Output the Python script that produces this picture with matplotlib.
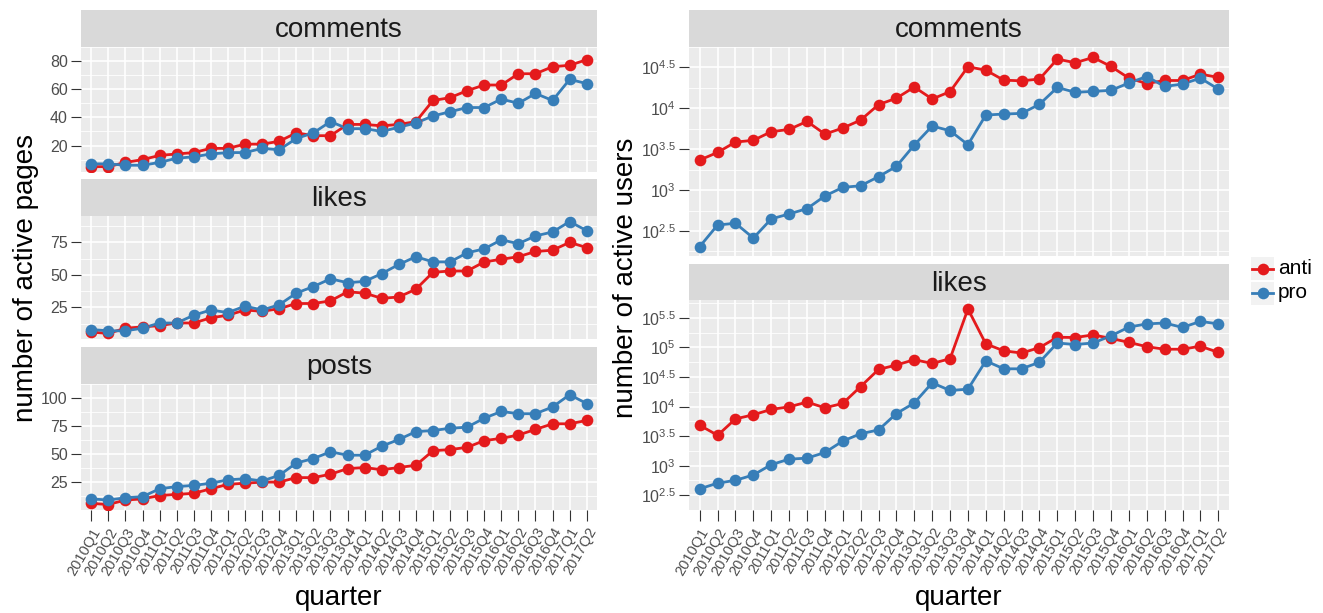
import matplotlib
matplotlib.use('Agg')
import matplotlib.pyplot as plt
from matplotlib.patches import Rectangle
from matplotlib.lines import Line2D
import numpy as np

plt.rcParams['font.family'] = ['Liberation Sans', 'DejaVu Sans']
plt.rcParams['mathtext.fontset'] = 'custom'
plt.rcParams['mathtext.rm'] = 'Liberation Sans'
plt.rcParams['mathtext.it'] = 'Liberation Sans'

# ---------------- data ----------------
quarters = ["2010Q1", "2010Q2", "2010Q3", "2010Q4", "2011Q1", "2011Q2", "2011Q3", "2011Q4",
            "2012Q1", "2012Q2", "2012Q3", "2012Q4", "2013Q1", "2013Q2", "2013Q3", "2013Q4",
            "2014Q1", "2014Q2", "2014Q3", "2014Q4", "2015Q1", "2015Q2", "2015Q3", "2015Q4",
            "2016Q1", "2016Q2", "2016Q3", "2016Q4", "2017Q1", "2017Q2"]

# number of active pages
pages_comments_anti = [5, 5, 8, 10, 13, 14, 15, 18, 18, 21, 21, 23, 29, 27, 27, 35, 35, 34, 35, 37,
                       52, 54, 59, 63, 63, 71, 71, 76, 77, 81]
pages_comments_pro = [7, 7, 6, 6, 8, 11, 12, 14, 15, 15, 18, 17, 25, 29, 37, 32, 32, 30, 33, 36,
                      41, 44, 47, 47, 53, 50, 57, 52, 67, 64]
pages_likes_anti = [6, 5, 9, 10, 11, 13, 13, 17, 19, 23, 22, 24, 28, 28, 30, 37, 36, 32, 33, 39,
                    52, 53, 53, 60, 62, 64, 68, 69, 75, 71]
pages_likes_pro = [8, 7, 7, 9, 13, 13, 19, 23, 21, 26, 23, 27, 36, 41, 47, 44, 45, 51, 58, 64,
                   60, 60, 67, 70, 77, 74, 80, 83, 91, 84]
pages_posts_anti = [6, 5, 9, 10, 13, 14, 15, 19, 23, 24, 25, 25, 29, 29, 32, 37, 38, 36, 38, 40,
                    53, 54, 56, 62, 64, 67, 72, 77, 77, 80]
pages_posts_pro = [10, 9, 11, 12, 19, 21, 22, 24, 27, 28, 26, 31, 42, 46, 52, 49, 49, 57, 63, 70,
                   71, 73, 74, 82, 88, 86, 86, 92, 103, 95]

# number of active users
users_comments_anti = [2330, 2890, 3870, 4060, 5180, 5520, 6920, 4840, 5740, 7180, 11100, 13300,
                       18200, 13000, 16000, 32200, 29300, 22100, 21700, 22800, 40000, 36100,
                       41900, 32500, 23400, 20100, 21900, 21900, 26200, 23900]
users_comments_pro = [204, 374, 393, 259, 444, 511, 593, 847, 1080, 1130, 1460, 1950, 3560, 6070,
                      5320, 3590, 8280, 8510, 8670, 11200, 18000, 15700, 16100, 16600, 20400,
                      24500, 18500, 19800, 23400, 17200]
users_likes_anti = [4830, 3260, 6180, 7260, 8950, 9890, 11900, 9530, 11300, 21800, 42400, 50400,
                    62100, 53600, 64400, 447000, 115000, 87700, 80400, 99300, 149000, 147000,
                    163000, 142000, 122000, 103000, 93300, 93300, 105000, 82400]
users_likes_pro = [406, 506, 565, 697, 1040, 1290, 1340, 1670, 2610, 3470, 4020, 7620, 11500,
                   25200, 18700, 19700, 59200, 43500, 43500, 56200, 119000, 112000, 119000,
                   157000, 221000, 250000, 259000, 218000, 276000, 250000]

series_names = ["anti", "pro"]
colors = {"anti": "#E41A1C", "pro": "#377EB8"}

# ---------------- layout ----------------
W, H = 1323, 613
fig = plt.figure(figsize=(W / 100, H / 100), dpi=100)

LW = 2.0
MS = 8.4


def rect(x0, y0, x1, y1):
    return [x0 / W, 1 - y1 / H, (x1 - x0) / W, (y1 - y0) / H]


def strip(x0, y0, x1, y1, label):
    sa = fig.add_axes(rect(x0, y0, x1, y1))
    sa.set_facecolor('#D9D9D9')
    for s in sa.spines.values():
        s.set_visible(False)
    sa.set_xticks([])
    sa.set_yticks([])
    sa.text(0.5, 0.45, label, transform=sa.transAxes, ha='center', va='center',
            fontsize=20, color='#1A1A1A')


def panel(x0, y0, x1, y1, anti, pro, yticks, ylabels, log=False, show_x=False):
    ax = fig.add_axes(rect(x0, y0, x1, y1))
    ax.set_facecolor('#EBEBEB')
    for s in ax.spines.values():
        s.set_visible(False)
    x = np.arange(len(quarters))
    if log:
        ax.set_yscale('log')
    for name, vals in zip(series_names, [anti, pro]):
        ax.plot(x, vals, color=colors[name], lw=LW, zorder=3, solid_capstyle='round')
    for name, vals in zip(series_names, [anti, pro]):
        ax.plot(x, vals, color=colors[name], lw=0, marker='o', ms=MS, zorder=4,
                markeredgewidth=0)
    allv = np.array(list(anti) + list(pro), dtype=float)
    if log:
        lv = np.log10(allv)
        r = lv.max() - lv.min()
        ax.set_ylim(10 ** (lv.min() - 0.05 * r), 10 ** (lv.max() + 0.05 * r))
        lt = np.log10(yticks)
        step = lt[1] - lt[0]
        minors = np.arange(lt[0] - step / 2, lt[-1] + step, step)
        ax.set_yticks([10 ** m for m in minors], minor=True)
    else:
        r = allv.max() - allv.min()
        ax.set_ylim(allv.min() - 0.05 * r, allv.max() + 0.05 * r)
        step = yticks[1] - yticks[0]
        minors = np.arange(yticks[0] - step / 2, yticks[-1] + step, step)
        ax.set_yticks(minors, minor=True)
    ax.set_yticks(yticks)
    ax.set_yticklabels(ylabels)
    ax.yaxis.set_minor_formatter(plt.NullFormatter())
    ax.set_xlim(-0.6, len(quarters) - 1 + 0.6)
    ax.set_xticks(x)
    ax.grid(which='major', color='white', lw=1.2, zorder=0)
    ax.grid(which='minor', axis='y', color='white', lw=0.6, zorder=0)
    ax.set_axisbelow(True)
    ax.tick_params(axis='y', which='major', length=7.5, width=0.8, color='#333333',
                   labelcolor='#4D4D4D', labelsize=11.5, pad=2)
    ax.tick_params(axis='y', which='minor', length=0)
    if show_x:
        ax.set_xticklabels(quarters, rotation=60, ha='right', va='top',
                           rotation_mode='anchor')
        ax.tick_params(axis='x', length=8, width=0.8, color='#333333',
                       labelcolor='#4D4D4D', labelsize=10.5, pad=3)
    else:
        ax.tick_params(axis='x', length=0, labelbottom=False)
    return ax


LX0, LX1 = 81, 597
RX0, RX1 = 689, 1229

# left column: pages
strip(LX0, 10, LX1, 47, 'comments')
panel(LX0, 47, LX1, 172, pages_comments_anti, pages_comments_pro,
      [20, 40, 60, 80], ['20', '40', '60', '80'])
strip(LX0, 179, LX1, 216, 'likes')
panel(LX0, 216, LX1, 339, pages_likes_anti, pages_likes_pro,
      [25, 50, 75], ['25', '50', '75'])
strip(LX0, 347, LX1, 384, 'posts')
panel(LX0, 384, LX1, 510, pages_posts_anti, pages_posts_pro,
      [25, 50, 75, 100], ['25', '50', '75', '100'], show_x=True)

# right column: users (log)
c_ticks = [10 ** 2.5, 10 ** 3, 10 ** 3.5, 10 ** 4, 10 ** 4.5]
c_labels = [r'$10^{2.5}$', r'$10^{3}$', r'$10^{3.5}$', r'$10^{4}$', r'$10^{4.5}$']
l_ticks = [10 ** 2.5, 10 ** 3, 10 ** 3.5, 10 ** 4, 10 ** 4.5, 10 ** 5, 10 ** 5.5]
l_labels = [r'$10^{2.5}$', r'$10^{3}$', r'$10^{3.5}$', r'$10^{4}$', r'$10^{4.5}$',
            r'$10^{5}$', r'$10^{5.5}$']
strip(RX0, 10, RX1, 47, 'comments')
panel(RX0, 47, RX1, 256, users_comments_anti, users_comments_pro, c_ticks, c_labels, log=True)
strip(RX0, 264, RX1, 300, 'likes')
panel(RX0, 300, RX1, 510, users_likes_anti, users_likes_pro, l_ticks, l_labels, log=True,
      show_x=True)

# axis titles
fig.text(26 / W, 1 - 278 / H, 'number of active pages', rotation=90, ha='center',
         va='center', fontsize=20)
fig.text(626 / W, 1 - 278 / H, 'number of active users', rotation=90, ha='center',
         va='center', fontsize=20)
fig.text((LX0 + LX1) / 2 / W, 1 - 598 / H, 'quarter', ha='center', va='center', fontsize=20)
fig.text((RX0 + RX1) / 2 / W, 1 - 598 / H, 'quarter', ha='center', va='center', fontsize=20)

# legend
lg = fig.add_axes(rect(1245, 250, 1323, 310))
lg.set_xlim(1245, 1323)
lg.set_ylim(310, 250)
lg.axis('off')
for i, name in enumerate(series_names):
    top = 257 + i * 24.5
    lg.add_patch(Rectangle((1251, top), 23, 23, facecolor='#F2F2F2', edgecolor='none'))
    cy = top + 11.5
    lg.add_line(Line2D([1252, 1273], [cy, cy], color=colors[name], lw=LW))
    lg.plot([1262.5], [cy], marker='o', ms=MS, color=colors[name], markeredgewidth=0)
    lg.text(1278, cy, name, ha='left', va='center', fontsize=15, color='black')

fig.savefig('out.png', dpi=100)
